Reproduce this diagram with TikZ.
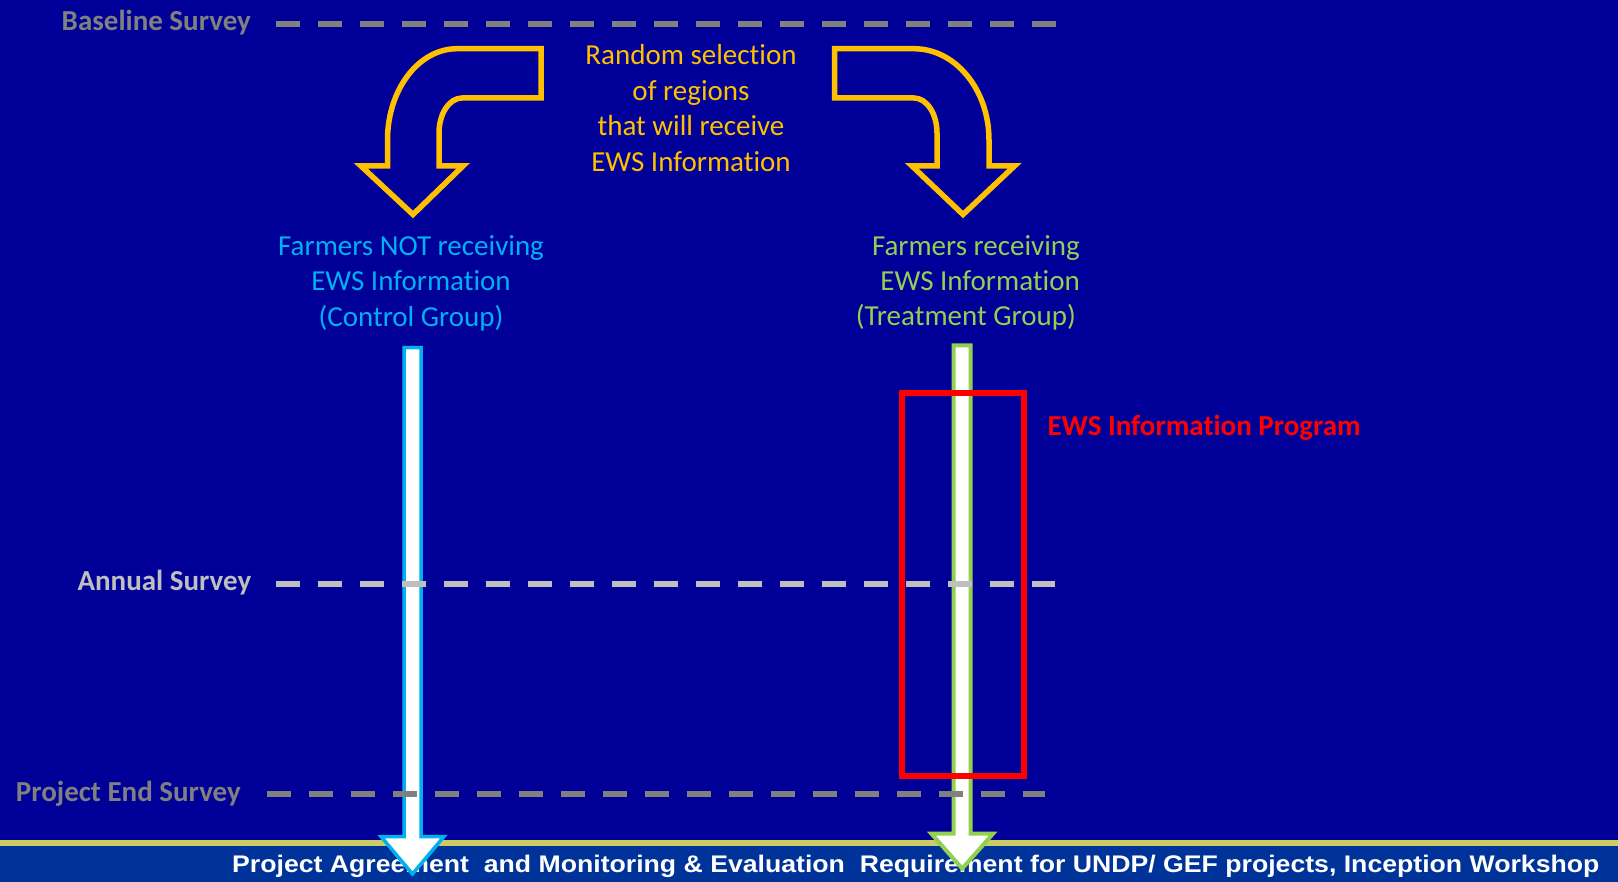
\documentclass[tikz,border=0pt]{standalone}
\usepackage{fontspec}
\setmainfont{Carlito}[Ligatures=NoCommon]
\newfontfamily\footfont{Liberation Sans}
\definecolor{bgblue}{HTML}{000099}
\definecolor{bandblue}{HTML}{003399}
\definecolor{bandline}{HTML}{CCCC66}
\definecolor{arrorange}{HTML}{FFC000}
\definecolor{ctrlcyan}{HTML}{00B0F0}
\definecolor{treatgreen}{HTML}{92D050}
\definecolor{survgray}{HTML}{808080}
\definecolor{survlight}{HTML}{BFBFBF}
\tikzset{
  survey/.style={font=\fontsize{29}{35}\selectfont\bfseries, inner sep=0pt, anchor=base east},
  dashline/.style={line width=5.7pt, dash pattern=on 24pt off 18pt},
  curvearrow/.style={draw=arrorange, line width=5.5pt, line join=miter},
  vtarrow/.style={fill=white, line join=miter},
  grouptext/.style={font=\fontsize{29}{35.5}\selectfont, inner sep=0pt, anchor=base},
}
\begin{document}
\begin{tikzpicture}[x=1pt,y=-1pt]
% background
\fill[bgblue] (0,0) rectangle (1618,882);
\useasboundingbox (0,0) rectangle (1618,882);
% footer band
\fill[bandblue] (0,846) rectangle (1618,882);
\fill[bandline] (0,840) rectangle (1618,846);
\node[font=\footfont\bfseries\fontsize{24}{28}\selectfont, text=white, inner sep=0pt, anchor=base] (footer) at (915.8,872.5)
  {\scalebox{1.11}[1]{Project Agreement\ \ and Monitoring \& Evaluation\ \ Requirement for UNDP/ GEF projects, Inception Workshop}};

% survey labels
\node[survey, text=survgray] (baseline) at (251,31) {Baseline Survey};
\node[survey, text=survlight] (annual) at (251.4,590.4) {Annual Survey};
\node[survey, text=survgray] (endsurvey) at (241,801.5) {Project End Survey};

% curved arrows
\draw[curvearrow] (541,48.7) -- (457,48.7) .. controls (418.6,48.7) and (387.5,89.6) .. (387.5,140)
  -- (387.5,166) -- (361,166) -- (413,214.5) -- (463,166) -- (439,166) -- (439,133)
  .. controls (439,113.7) and (449.3,98) .. (462,98) -- (541,98) -- cycle;
\draw[curvearrow] (834.6,48.7) -- (914,48.7) .. controls (955.4,48.7) and (989,89.6) .. (989,140)
  -- (989,166) -- (1014.5,166) -- (963,214.5) -- (912,166) -- (937,166) -- (937,133)
  .. controls (937,113.7) and (926.7,98) .. (914,98) -- (834.6,98) -- cycle;

% texts
\node[grouptext, text=arrorange] (random) at (691,65)
  {\begin{tabular}[t]{@{}c@{}}Random selection\\ of regions\\ that will receive\\ EWS Information\end{tabular}};
\node[grouptext, text=ctrlcyan] (control) at (411,255.5)
  {\begin{tabular}[t]{@{}c@{}}Farmers NOT receiving\\ EWS Information\\ (Control Group)\end{tabular}};
\node[grouptext, text=treatgreen, anchor=base east, font=\fontsize{29}{35}\selectfont] (treatment) at (1080,255.5)
  {\begin{tabular}[t]{@{}r@{}}Farmers receiving\\ EWS Information\\ (Treatment Group)\hspace*{4pt}\end{tabular}};

% vertical arrows
\draw[vtarrow, draw=ctrlcyan, line width=3.5pt] (404,347.7) -- (421,347.7) -- (421,836.5) -- (444,836.5)
  -- (412.5,874) -- (381,836.5) -- (404,836.5) -- cycle;
\draw[vtarrow, draw=treatgreen, line width=4pt] (953.7,345.3) -- (970.7,345.3) -- (970.7,833.7) -- (993,833.7)
  -- (962.2,868.6) -- (931.4,833.7) -- (953.7,833.7) -- cycle;

% EWS program box
\draw[red, line width=5.5pt] (902,393) rectangle (1024,776);
\node[font=\fontsize{29}{35}\selectfont\bfseries, text=red, inner sep=0pt, anchor=base west] (program) at (1047.3,435.3) {EWS Information Program};

% survey dashed lines
\coordinate (bl-a) at (276,24.3);
\coordinate (bl-b) at (1056,24.3);
\coordinate (an-a) at (276.3,584.3);
\coordinate (an-b) at (1055,584.3);
\coordinate (en-a) at (266.5,794.3);
\coordinate (en-b) at (1045.4,794.3);
\draw[dashline, survgray] (bl-a) -- (bl-b);
\draw[dashline, survlight] (an-a) -- (an-b);
\draw[dashline, survgray] (en-a) -- (en-b);
\end{tikzpicture}
\end{document}
